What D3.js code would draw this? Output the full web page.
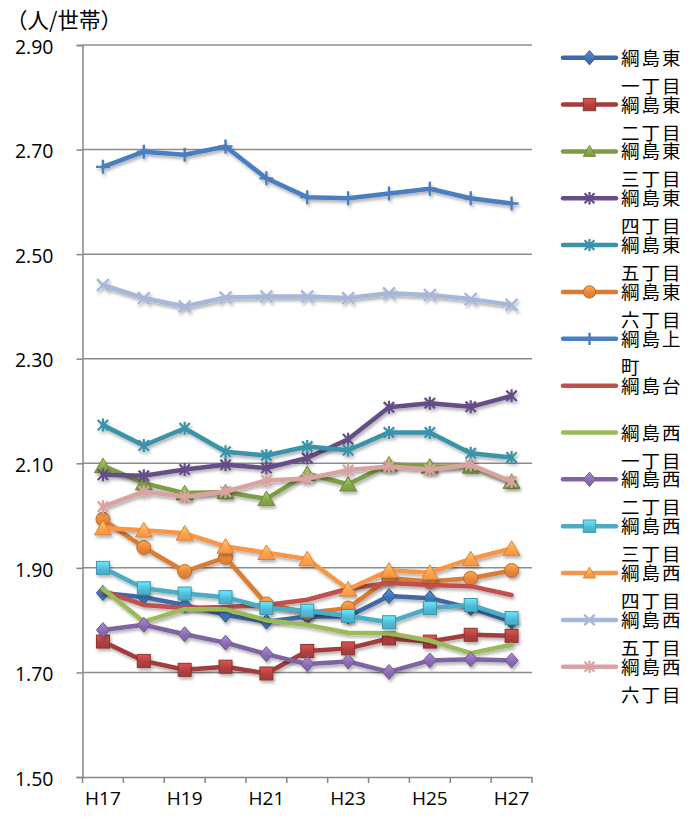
<!DOCTYPE html>
<html>
<head>
<meta charset="utf-8">
<script src="https://cdn.jsdelivr.net/npm/d3@7"></script>
<style>
  html, body { margin: 0; padding: 0; background: #fff; }
  svg { display: block; }
</style>
</head>
<body>
<div id="chart"></div>
<script>
// ---------- data ----------
const categories = ["H17","H18","H19","H20","H21","H22","H23","H24","H25","H26","H27"];
const xTickLabels = ["H17","H19","H21","H23","H25","H27"];
const yTicks = [1.50, 1.70, 1.90, 2.10, 2.30, 2.50, 2.70, 2.90];
const unitLabel = "（人/世帯）";

const seriesNames = [
  "綱島東一丁目","綱島東二丁目","綱島東三丁目","綱島東四丁目","綱島東五丁目","綱島東六丁目",
  "綱島上町","綱島台",
  "綱島西一丁目","綱島西二丁目","綱島西三丁目","綱島西四丁目","綱島西五丁目","綱島西六丁目"
];
const s01 = [1.852, 1.844, 1.829, 1.810, 1.797, 1.807, 1.807, 1.846, 1.842, 1.823, 1.797];
const s02 = [1.759, 1.722, 1.705, 1.711, 1.698, 1.741, 1.746, 1.765, 1.759, 1.772, 1.770];
const s03 = [2.095, 2.062, 2.043, 2.045, 2.032, 2.080, 2.060, 2.098, 2.094, 2.094, 2.065];
const s04 = [2.078, 2.076, 2.088, 2.097, 2.091, 2.110, 2.146, 2.207, 2.215, 2.208, 2.229];
const s05 = [2.173, 2.134, 2.167, 2.122, 2.115, 2.132, 2.125, 2.159, 2.159, 2.119, 2.111];
const s06 = [1.993, 1.939, 1.893, 1.920, 1.831, 1.814, 1.823, 1.880, 1.874, 1.880, 1.895];
const s07 = [2.667, 2.696, 2.690, 2.706, 2.645, 2.609, 2.607, 2.616, 2.625, 2.607, 2.597];
const s08 = [1.856, 1.829, 1.823, 1.825, 1.829, 1.839, 1.860, 1.871, 1.867, 1.865, 1.848];
const s09 = [1.860, 1.797, 1.821, 1.821, 1.800, 1.791, 1.776, 1.775, 1.761, 1.737, 1.753];
const s10 = [1.781, 1.791, 1.773, 1.757, 1.735, 1.716, 1.721, 1.701, 1.723, 1.725, 1.723];
const s11 = [1.900, 1.861, 1.851, 1.844, 1.823, 1.818, 1.808, 1.796, 1.823, 1.829, 1.804];
const s12 = [1.976, 1.972, 1.966, 1.941, 1.929, 1.917, 1.859, 1.895, 1.891, 1.917, 1.937];
const s13 = [2.441, 2.416, 2.400, 2.417, 2.419, 2.419, 2.416, 2.425, 2.422, 2.414, 2.403];
const s14 = [2.017, 2.046, 2.036, 2.046, 2.067, 2.071, 2.087, 2.094, 2.088, 2.097, 2.065];
const seriesValues = [s01,s02,s03,s04,s05,s06,s07,s08,s09,s10,s11,s12,s13,s14];

// ---------- style ----------
const colors = ["#3c6aa5","#a33c3a","#7e9c45","#664d88","#3a93a9","#d97b35",
                "#4a7ec0","#c0504d","#9bbb59","#8064a2","#4bacc6","#f79646","#a6b8d9","#d9a3a2"];
const markers = ["diamond","square","triangle","star","star","circle",
                 "plus","none","none","diamond","square","triangle","x","star"];
const markerSize = [13,13,17,13,13,14, 14,0,0,13,13,17,14,13];

const W = 697, H = 819;
const plot = {left: 82.5, right: 532, top: 45, bottom: 777};
const numFont = "'Open Sans', 'Noto Sans', sans-serif";
const cjkFont = "'Noto Sans CJK JP', 'Noto Sans', sans-serif";

const svg = d3.select("#chart").append("svg").attr("width", W).attr("height", H);
const defs = svg.append("defs");
const f = defs.append("filter").attr("id","shadow").attr("x","-20%").attr("y","-20%").attr("width","140%").attr("height","140%");
f.append("feDropShadow").attr("dx",1.5).attr("dy",2.5).attr("stdDeviation",1.6)
  .attr("flood-color","#000").attr("flood-opacity",0.3);

colors.forEach((c,i)=>{
  const g = defs.append("linearGradient").attr("id","grad"+i).attr("x1",0).attr("y1",0).attr("x2",0).attr("y2",1);
  g.append("stop").attr("offset","0%").attr("stop-color", d3.color(c).brighter(0.9));
  g.append("stop").attr("offset","60%").attr("stop-color", d3.color(c).brighter(0.2));
  g.append("stop").attr("offset","100%").attr("stop-color", c);
});

const x = d3.scaleBand().domain(categories).range([plot.left, plot.right]);
const xc = d => x(d) + x.bandwidth()/2;
const y = d3.scaleLinear().domain([1.5, 2.9]).range([plot.bottom, plot.top]);

// gridlines
svg.append("g").selectAll("line").data(yTicks.filter(t => t > 1.5)).join("line")
  .attr("x1", plot.left).attr("x2", plot.right)
  .attr("y1", d => y(d)).attr("y2", d => y(d))
  .attr("stroke", "#8c8c8c").attr("stroke-width", 1.5);

// y axis
const yAxis = svg.append("g").attr("transform", `translate(${plot.left},0)`)
  .call(d3.axisLeft(y).tickValues(yTicks).tickFormat(d3.format(".2f")).tickSize(6).tickPadding(23));
yAxis.select(".domain").attr("stroke","#868686").attr("stroke-width",1.5);
yAxis.selectAll(".tick line").attr("stroke","#868686").attr("stroke-width",1.5);
yAxis.selectAll(".tick text").attr("font-family", numFont).attr("font-size", 19.5)
  .attr("fill","#000").attr("dy","0.42em");

// x axis
const xAxis = svg.append("g").attr("transform", `translate(0,${plot.bottom})`)
  .call(d3.axisBottom(x).tickValues(xTickLabels).tickSize(0).tickPadding(15));
xAxis.select(".domain").attr("stroke","#868686").attr("stroke-width",1.5);
xAxis.selectAll(".tick text").attr("font-family", numFont).attr("font-size", 19).attr("fill","#000");
const bounds = categories.map(c => x(c)).concat([x.range()[1]]);
xAxis.append("g").selectAll("line").data(bounds).join("line")
  .attr("x1", d => d).attr("x2", d => d).attr("y1", 0).attr("y2", 6)
  .attr("stroke","#868686").attr("stroke-width",1.5);

// unit label
svg.append("text").attr("x", 6).attr("y", 28).text(unitLabel)
  .attr("font-family", cjkFont).attr("font-size", 21.5).attr("fill","#000");

// marker drawer
function drawMarker(g, type, cx, cy, s, color, i) {
  const h = s/2;
  const stroke = d3.color(color).darker(0.4);
  if (type === "diamond") {
    g.append("path").attr("d", `M${cx},${cy-h-1}L${cx+h},${cy}L${cx},${cy+h+1}L${cx-h},${cy}Z`)
      .attr("fill", `url(#grad${i})`).attr("stroke", stroke).attr("stroke-width", 1);
  } else if (type === "square") {
    g.append("rect").attr("x", cx-h).attr("y", cy-h).attr("width", s).attr("height", s)
      .attr("fill", `url(#grad${i})`).attr("stroke", stroke).attr("stroke-width", 1);
  } else if (type === "triangle") {
    const th = s*0.8;
    g.append("path").attr("d", `M${cx},${cy-th/2-1}L${cx+h},${cy+th/2}L${cx-h},${cy+th/2}Z`)
      .attr("fill", `url(#grad${i})`).attr("stroke", stroke).attr("stroke-width", 1);
  } else if (type === "circle") {
    g.append("circle").attr("cx", cx).attr("cy", cy).attr("r", h)
      .attr("fill", `url(#grad${i})`).attr("stroke", stroke).attr("stroke-width", 1);
  } else if (type === "star") {
    const d = h*0.8;
    g.append("path").attr("d", `M${cx-d},${cy-d}L${cx+d},${cy+d}M${cx-d},${cy+d}L${cx+d},${cy-d}M${cx},${cy-h}L${cx},${cy+h}`)
      .attr("stroke", color).attr("stroke-width", 2.2).attr("fill","none");
  } else if (type === "x") {
    const d = h*0.85;
    g.append("path").attr("d", `M${cx-d},${cy-d}L${cx+d},${cy+d}M${cx-d},${cy+d}L${cx+d},${cy-d}`)
      .attr("stroke", color).attr("stroke-width", 2.4).attr("fill","none");
  } else if (type === "plus") {
    g.append("path").attr("d", `M${cx},${cy-h}L${cx},${cy+h}M${cx-h},${cy}L${cx+h},${cy}`)
      .attr("stroke", color).attr("stroke-width", 2.4).attr("fill","none");
  }
}

// series
const line = d3.line().x((d,j) => xc(categories[j])).y(d => y(d));
seriesValues.forEach((vals, i) => {
  const g = svg.append("g").attr("filter","url(#shadow)");
  g.append("path").datum(vals).attr("d", line).attr("fill","none")
    .attr("stroke", colors[i]).attr("stroke-width", 4.5)
    .attr("stroke-linejoin","round").attr("stroke-linecap","round");
  vals.forEach((v, j) => drawMarker(g, markers[i], xc(categories[j]), y(v), markerSize[i], colors[i], i));
});

// legend
const leg = svg.append("g");
const legX1 = 563, legX2 = 616, legTextX = 621, legTop = 57.7, legStep = 46.85;
seriesNames.forEach((name, i) => {
  const yy = legTop + i*legStep;
  leg.append("line").attr("x1", legX1).attr("x2", legX2).attr("y1", yy).attr("y2", yy)
    .attr("stroke", colors[i]).attr("stroke-width", 4.5).attr("stroke-linecap","round");
  const ms = markerSize[i] ? Math.min(markerSize[i], 13) * 0.95 : 0;
  drawMarker(leg, markers[i], (legX1+legX2)/2, yy, ms, colors[i], i);
  const l1 = name.slice(0,3), l2 = name.slice(3);
  leg.append("text").attr("x", legTextX).attr("y", yy).attr("dy","0.38em").text(l1)
    .attr("font-family", cjkFont).attr("font-size", 18.5).attr("letter-spacing", 2).attr("fill","#000");
  if (l2) leg.append("text").attr("x", legTextX).attr("y", yy + 28).attr("dy","0.38em").text(l2)
    .attr("font-family", cjkFont).attr("font-size", 18.5).attr("letter-spacing", 2).attr("fill","#000");
});
</script>
</body>
</html>
